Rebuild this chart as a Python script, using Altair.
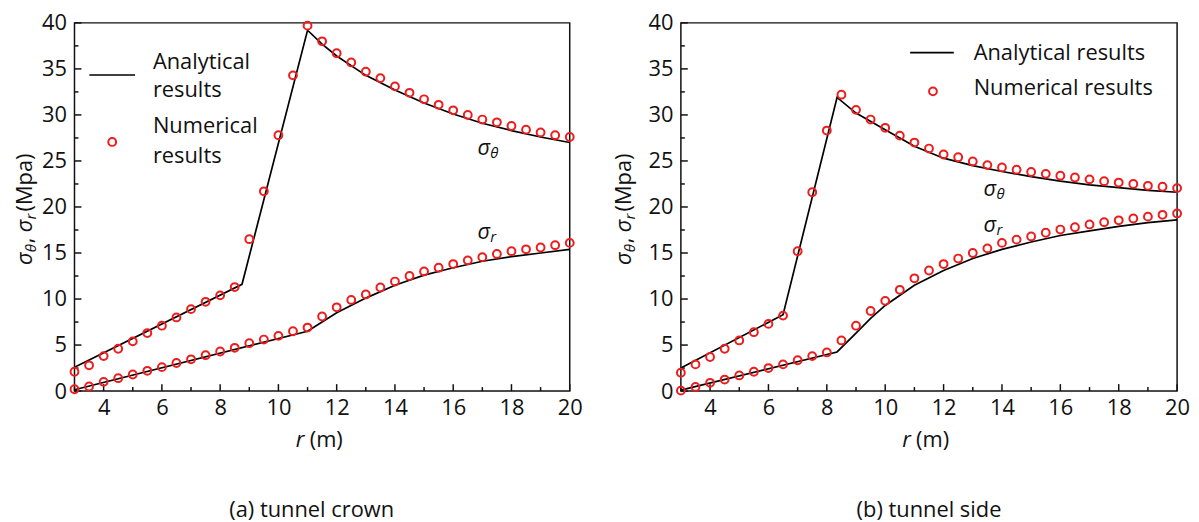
import altair as alt
import pandas as pd

FONT = "Open Sans"
RED = "#ee1c1c"
INK = "#111111"

# ---------------- data ----------------
r_num = [3, 3.5, 4, 4.5, 5, 5.5, 6, 6.5, 7, 7.5, 8, 8.5, 9, 9.5, 10, 10.5, 11, 11.5,
         12, 12.5, 13, 13.5, 14, 14.5, 15, 15.5, 16, 16.5, 17, 17.5, 18, 18.5, 19, 19.5, 20]

# (a) tunnel crown
a_theta_num = [2.1, 2.8, 3.8, 4.6, 5.4, 6.3, 7.1, 8.0, 8.9, 9.7, 10.4, 11.3, 16.5, 21.7, 27.8,
               34.3, 39.7, 38.0, 36.7, 35.7, 34.7, 34.0, 33.1, 32.4, 31.7, 31.1, 30.5, 30.0,
               29.5, 29.2, 28.8, 28.4, 28.1, 27.8, 27.6]
a_r_num = [0.2, 0.5, 1.0, 1.4, 1.8, 2.2, 2.6, 3.05, 3.45, 3.9, 4.3, 4.7, 5.2, 5.6, 6.0, 6.5,
           6.9, 8.1, 9.1, 9.9, 10.5, 11.25, 11.9, 12.5, 13.0, 13.4, 13.8, 14.2, 14.55, 14.9,
           15.2, 15.4, 15.6, 15.85, 16.1]
a_theta_line_r = [3, 8.75, 11, 11.5, 12, 13, 14, 15, 16, 17, 18, 19, 20]
a_theta_line_v = [2.6, 11.6, 39.2, 37.7, 36.4, 34.3, 32.7, 31.3, 30.1, 29.1, 28.3, 27.6, 27.0]
a_r_line_r = [3, 11, 11.5, 12, 13, 14, 15, 16, 17, 18, 19, 20]
a_r_line_v = [0.15, 6.5, 7.5, 8.5, 10.1, 11.5, 12.6, 13.4, 14.1, 14.6, 15.0, 15.4]

# (b) tunnel side
b_theta_num = [2.0, 2.9, 3.7, 4.6, 5.5, 6.4, 7.3, 8.2, 15.2, 21.6, 28.3, 32.2, 30.55, 29.5,
               28.6, 27.75, 27.0, 26.35, 25.7, 25.4, 24.95, 24.55, 24.3, 24.05, 23.8, 23.6,
               23.4, 23.2, 23.0, 22.8, 22.65, 22.5, 22.3, 22.2, 22.05]
b_r_num = [0.05, 0.45, 0.9, 1.25, 1.7, 2.1, 2.5, 2.9, 3.35, 3.8, 4.2, 5.5, 7.1, 8.7, 9.8,
           11.0, 12.25, 13.1, 13.8, 14.4, 15.0, 15.5, 16.1, 16.45, 16.8, 17.2, 17.55, 17.8,
           18.1, 18.35, 18.55, 18.75, 18.95, 19.15, 19.3]
b_theta_line_r = [3, 6.5, 8.35, 9, 10, 11, 12, 13, 14, 15, 16, 17, 18, 19, 20]
b_theta_line_v = [2.5, 8.3, 31.9, 30.2, 28.4, 26.6, 25.3, 24.5, 23.85, 23.3, 22.8, 22.4, 22.1, 21.8, 21.6]
b_r_line_r = [3, 8.35, 9, 9.5, 10, 11, 12, 13, 14, 15, 16, 17, 18, 19, 20]
b_r_line_v = [0.1, 4.25, 6.3, 7.9, 9.3, 11.5, 13.1, 14.4, 15.4, 16.2, 16.9, 17.4, 17.9, 18.3, 18.6]

# axis ticks / labels
y_major = [0, 5, 10, 15, 20, 25, 30, 35, 40]
y_minor = [2.5, 7.5, 12.5, 17.5, 22.5, 27.5, 32.5, 37.5]
x_major = [4, 6, 8, 10, 12, 14, 16, 18, 20]
x_minor = [3, 5, 7, 9, 11, 13, 15, 17, 19]

# curve labels (data coordinates of label baseline start)
a_ann_r = [16.83, 16.83]
a_ann_v = [25.66, 16.5]
b_ann_r = [13.37, 13.37]
b_ann_v = [21.24, 17.25]
ann_sub = ["θ", "r"]

H = 371


def X(field):
    return alt.X(field, type="quantitative",
                 scale=alt.Scale(domain=[3, 20], nice=False, zero=False),
                 axis=alt.Axis(values=x_major, title=None, ticks=False, domain=False,
                               grid=False, labelFlush=False, labelPadding=7))


def Y(field):
    return alt.Y(field, type="quantitative",
                 scale=alt.Scale(domain=[0, 40], nice=False, zero=False),
                 axis=alt.Axis(values=y_major, title=None, ticks=False, domain=False,
                               grid=False, labelFlush=False, labelPadding=8))


ONE = pd.DataFrame({"d": [0]})


def txt(x, y, s, size=22, italic=False, angle=0, align="left"):
    kw = dict(text=s, x=x, y=y, font=FONT, fontSize=size, color=INK, align=align,
              baseline="alphabetic", angle=angle)
    if italic:
        kw["fontStyle"] = "italic"
    return alt.Chart(ONE).mark_text(**kw)


def panel(theta_num, r_vals, tl_r, tl_v, rl_r, rl_v, ann_r, ann_v, W,
          legend_layers, ytitle_x, caption, caption_x):
    pts = pd.DataFrame({"r": r_num + r_num, "v": theta_num + r_vals,
                        "s": ["theta"] * len(r_num) + ["r"] * len(r_num)})
    lines = pd.DataFrame({"r": tl_r + rl_r, "v": tl_v + rl_v,
                          "s": ["theta"] * len(tl_r) + ["r"] * len(rl_r)})
    yt_maj = pd.DataFrame({"x0": [3] * len(y_major), "v": y_major})
    yt_min = pd.DataFrame({"x0": [3] * len(y_minor), "v": y_minor})
    xt_maj = pd.DataFrame({"v": x_major, "y0": [0] * len(x_major)})
    xt_min = pd.DataFrame({"v": x_minor, "y0": [0] * len(x_minor)})
    ann = pd.DataFrame({"r": ann_r, "v": ann_v, "sub": ann_sub})

    layers = [
        alt.Chart(yt_maj).mark_rule(x2Offset=7, strokeWidth=1.5, color=INK).encode(
            x=X("x0"), x2="x0", y=Y("v")),
        alt.Chart(yt_min).mark_rule(x2Offset=4, strokeWidth=1.5, color=INK).encode(
            x=X("x0"), x2="x0", y=Y("v")),
        alt.Chart(xt_maj).mark_rule(y2Offset=-7, strokeWidth=1.5, color=INK).encode(
            x=X("v"), y=Y("y0"), y2="y0"),
        alt.Chart(xt_min).mark_rule(y2Offset=-4, strokeWidth=1.5, color=INK).encode(
            x=X("v"), y=Y("y0"), y2="y0"),
        alt.Chart(lines).mark_line(color="black", strokeWidth=1.7).encode(
            x=X("r"), y=Y("v"), detail="s:N"),
        alt.Chart(pts).mark_point(shape="circle", filled=False, color=RED, size=62,
                                  strokeWidth=2, opacity=1).encode(x=X("r"), y=Y("v")),
        alt.Chart(ann).mark_text(text="σ", font=FONT, fontSize=22, fontStyle="italic",
                                 color=INK, align="left", baseline="alphabetic").encode(
            x=X("r"), y=Y("v")),
        alt.Chart(ann).mark_text(font=FONT, fontSize=15, fontStyle="italic", color=INK,
                                 align="left", baseline="alphabetic", dx=13, dy=3).encode(
            x=X("r"), y=Y("v"), text="sub:N"),
    ]
    layers += legend_layers
    # y axis title: σθ, σr (Mpa)  (rotated)
    layers += [
        txt(ytitle_x, 244, "σ", italic=True, angle=270),
        txt(ytitle_x + 4, 231, "θ", size=15, italic=True, angle=270),
        txt(ytitle_x, 222, ",", angle=270),
        txt(ytitle_x, 211, "σ", italic=True, angle=270),
        txt(ytitle_x + 4, 198, "r", size=15, italic=True, angle=270),
        txt(ytitle_x, 190, "(Mpa)", angle=270),
    ]
    # x axis title: r (m)
    layers += [
        txt(223, 427, "r", italic=True),
        txt(237, 427, "(m)"),
    ]
    layers += [txt(caption_x, 498, caption, align="center")]
    return alt.layer(*layers).properties(width=W, height=H)


def legend_a():
    return [
        alt.Chart(ONE).mark_rule(color="black", strokeWidth=1.7).encode(
            x=alt.value(15), x2=alt.value(61), y=alt.value(52.5)),
        alt.Chart(ONE).mark_point(shape="circle", filled=False, color=RED, size=62,
                                  strokeWidth=2, opacity=1).encode(
            x=alt.value(38), y=alt.value(120)),
        txt(79, 46, "Analytical"),
        txt(79, 75, "results"),
        txt(79, 111, "Numerical"),
        txt(79, 141, "results"),
    ]


def legend_b():
    return [
        alt.Chart(ONE).mark_rule(color="black", strokeWidth=1.7).encode(
            x=alt.value(231), x2=alt.value(275), y=alt.value(30)),
        alt.Chart(ONE).mark_point(shape="circle", filled=False, color=RED, size=62,
                                  strokeWidth=2, opacity=1).encode(
            x=alt.value(254), y=alt.value(69)),
        txt(295, 37, "Analytical results"),
        txt(295, 73, "Numerical results"),
    ]


left = panel(a_theta_num, a_r_num, a_theta_line_r, a_theta_line_v, a_r_line_r, a_r_line_v,
             a_ann_r, a_ann_v, 499, legend_a(), -43, "(a) tunnel crown", 239)
right = panel(b_theta_num, b_r_num, b_theta_line_r, b_theta_line_v, b_r_line_r, b_r_line_v,
              b_ann_r, b_ann_v, 500, legend_b(), -50, "(b) tunnel side", 250)

chart = alt.hconcat(left, right, spacing=29).properties(
    padding={"left": 5, "top": 1, "right": 0, "bottom": 8}
).configure_view(stroke=INK, strokeWidth=1.5).configure_axis(
    labelFont=FONT, labelFontSize=22, labelColor=INK
)

chart.save("out.html", embed_options={"renderer": "svg", "actions": False})
